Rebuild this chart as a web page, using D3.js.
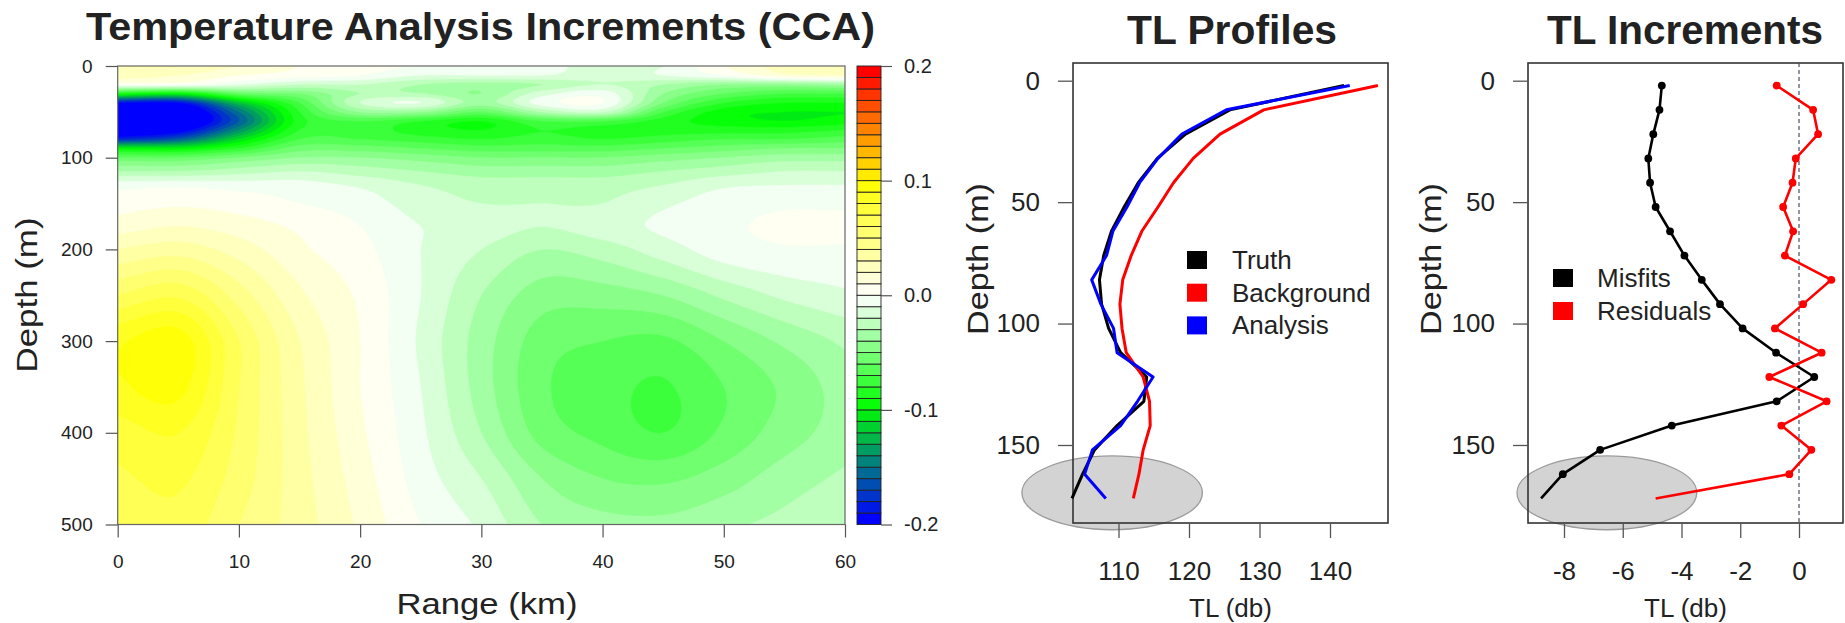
<!DOCTYPE html>
<html>
<head>
<meta charset="utf-8">
<script src="https://cdn.jsdelivr.net/npm/d3@7"></script>
<style>
body { margin: 0; background: #fff; }
text { font-family: "Liberation Sans", Arial, sans-serif; fill: #222; }
</style>
</head>
<body>
<svg id="chart" width="1845" height="623"></svg>
<script>
// ---- data: temperature increment field (rows = depth, cols = range)
var rangeKm = [0, 5, 10, 15, 20, 25, 30, 35, 40, 45, 50, 55, 60];
var depthM = [0, 10, 20, 30, 40, 50, 60, 70, 80, 90, 100, 115, 130, 150, 175, 200, 250, 300, 350, 400, 450, 500];
var incrRows = [
  [0.03, 0.03, 0.02, 0.01, 0.005, 0.0, 0.0, -0.005, -0.015, -0.01, 0.01, 0.025, 0.03],
  [0.025, 0.02, 0.01, 0.005, 0.0, -0.01, -0.01, -0.01, -0.015, -0.01, 0.0, 0.015, 0.02],
  [0.0, 0.0, -0.01, -0.02, -0.02, -0.03, -0.035, -0.03, -0.02, -0.03, -0.04, -0.04, -0.035],
  [-0.09, -0.1, -0.06, -0.05, -0.03, -0.03, -0.04, -0.015, -0.005, -0.04, -0.06, -0.07, -0.07],
  [-0.19, -0.19, -0.12, -0.07, -0.02, -0.01, -0.035, -0.005, 0.0, -0.05, -0.08, -0.09, -0.09],
  [-0.22, -0.22, -0.15, -0.08, -0.04, -0.04, -0.06, -0.03, -0.02, -0.07, -0.095, -0.1, -0.1],
  [-0.22, -0.22, -0.16, -0.085, -0.07, -0.08, -0.09, -0.07, -0.07, -0.085, -0.095, -0.1, -0.095],
  [-0.21, -0.2, -0.14, -0.08, -0.075, -0.085, -0.09, -0.08, -0.085, -0.085, -0.085, -0.085, -0.08],
  [-0.18, -0.16, -0.11, -0.07, -0.07, -0.075, -0.08, -0.075, -0.08, -0.075, -0.07, -0.07, -0.065],
  [-0.1, -0.1, -0.08, -0.055, -0.055, -0.06, -0.065, -0.065, -0.065, -0.06, -0.055, -0.05, -0.05],
  [-0.06, -0.06, -0.05, -0.04, -0.04, -0.045, -0.05, -0.05, -0.05, -0.045, -0.04, -0.035, -0.035],
  [-0.03, -0.03, -0.025, -0.02, -0.025, -0.03, -0.035, -0.035, -0.035, -0.03, -0.025, -0.02, -0.02],
  [-0.005, -0.003, -0.005, -0.006, -0.012, -0.02, -0.025, -0.025, -0.025, -0.02, -0.012, -0.01, -0.01],
  [0.005, 0.008, 0.005, 0.0, -0.005, -0.015, -0.02, -0.02, -0.02, -0.012, -0.005, -0.002, -0.002],
  [0.015, 0.02, 0.015, 0.008, 0.0, -0.01, -0.015, -0.02, -0.015, -0.008, -0.002, 0.002, 0.002],
  [0.03, 0.035, 0.025, 0.012, 0.003, -0.01, -0.02, -0.03, -0.025, -0.015, -0.005, -0.001, -0.001],
  [0.06, 0.068, 0.045, 0.022, 0.008, -0.01, -0.03, -0.045, -0.045, -0.04, -0.028, -0.018, -0.012],
  [0.088, 0.095, 0.06, 0.03, 0.01, -0.012, -0.035, -0.055, -0.06, -0.062, -0.05, -0.038, -0.028],
  [0.088, 0.093, 0.06, 0.032, 0.01, -0.01, -0.035, -0.058, -0.066, -0.071, -0.06, -0.048, -0.035],
  [0.075, 0.08, 0.058, 0.033, 0.012, -0.008, -0.03, -0.054, -0.063, -0.07, -0.058, -0.045, -0.035],
  [0.068, 0.072, 0.055, 0.034, 0.015, -0.005, -0.02, -0.04, -0.05, -0.052, -0.045, -0.035, -0.028],
  [0.062, 0.066, 0.05, 0.035, 0.018, 0.0, -0.012, -0.03, -0.036, -0.037, -0.032, -0.027, -0.022]
];
var rangeTicks = [0, 10, 20, 30, 40, 50, 60];
var depthTicks = [0, 100, 200, 300, 400, 500];
var cbarTicks = [0.2, 0.1, 0.0, -0.1, -0.2];

// ---- data: TL profiles and increments
var profDepth = [2, 12, 22, 32, 42, 52, 62, 72, 82, 92, 102, 112, 122, 132, 142, 152, 162, 172];
var truthTL = [142.0, 125.8, 119.5, 115.5, 112.8, 110.8, 109.0, 107.9, 107.3, 107.6, 108.6, 110.3, 114.0, 113.6, 109.8, 106.6, 104.9, 103.4];
var backgroundTL = [146.8, 130.6, 124.4, 120.6, 117.8, 115.6, 113.3, 111.8, 110.6, 110.2, 110.5, 111.1, 113.5, 114.4, 114.5, 113.5, 112.9, 112.1];
var analysisTL = [142.8, 125.3, 119.0, 115.6, 113.0, 111.2, 109.2, 108.3, 106.2, 107.5, 109.3, 109.8, 114.9, 112.7, 110.3, 106.3, 105.2, 108.2];
var misfits = [-4.67, -4.75, -4.96, -5.13, -5.07, -4.88, -4.39, -3.90, -3.31, -2.69, -1.92, -0.78, 0.52, -0.76, -4.33, -6.77, -8.04, -8.78];
var residuals = [-0.76, 0.48, 0.65, -0.11, -0.22, -0.54, -0.20, -0.48, 1.10, 0.14, -0.82, 0.77, -1.01, 0.94, -0.60, 0.42, -0.33, -4.88];
var profDepthTicks = [0, 50, 100, 150];
var tlTicks = [110, 120, 130, 140];
var incTicks = [-8, -6, -4, -2, 0];
// highlighted region: [x centre, depth centre, x radius, depth radius]
var highlightTL = [109.1, 169.7, 12.8, 15.2];
var highlightInc = [-6.54, 169.7, 3.06, 15.2];

var svg = d3.select("#chart");
var plain = function(d) { return String(d); };

// ---------- panel 1: contour field ----------
var x1 = d3.scaleLinear().domain([0, 60]).range([117.7, 845]);
var y1 = d3.scaleLinear().domain([0, 500]).range([66, 524.5]);
var cy = d3.scaleLinear().domain([-0.2, 0.2]).range([524.5, 66]);

var ramp = d3.scaleLinear().domain([0, 0.25, 0.5, 0.75, 1])
  .range(["#0000ff", "#00ff00", "#ffffff", "#ffff00", "#ff0000"])
  .interpolate(d3.interpolateRgb);
var nLev = 40;
var levels = d3.range(nLev).map(function(i) { return -0.2 + 0.01 * i; });
function levColor(i) { return ramp(i / (nLev - 1)); }

// cubic hermite through the read values, only to draw smooth contours
function cubic(xs, ys) {
  var n = xs.length, d = [], h = [], m = new Array(n), i;
  for (i = 0; i < n - 1; i++) { h.push(xs[i + 1] - xs[i]); d.push((ys[i + 1] - ys[i]) / h[i]); }
  m[0] = d[0]; m[n - 1] = d[n - 2];
  for (i = 1; i < n - 1; i++) m[i] = (d[i - 1] * h[i] + d[i] * h[i - 1]) / (h[i - 1] + h[i]);
  return function(x) {
    var k = Math.max(0, Math.min(n - 2, d3.bisectRight(xs, x) - 1));
    var t = (x - xs[k]) / h[k], t2 = t * t, t3 = t2 * t;
    return (2 * t3 - 3 * t2 + 1) * ys[k] + (t3 - 2 * t2 + t) * h[k] * m[k] +
      (-2 * t3 + 3 * t2) * ys[k + 1] + (t3 - t2) * h[k] * m[k + 1];
  };
}

var fx = 0.25, fy = 1, nx = 241, ny = 501;
var cols = rangeKm.map(function(_, c) {
  var f = cubic(depthM, incrRows.map(function(r) { return r[c]; }));
  return d3.range(ny).map(function(j) { return f(j * fy); });
});
var grid = new Float64Array(nx * ny);
for (var j = 0; j < ny; j++) {
  var fr = cubic(rangeKm, cols.map(function(col) { return col[j]; }));
  for (var i = 0; i < nx; i++) grid[j * nx + i] = fr(i * fx);
}
var contours = d3.contours().size([nx, ny]).thresholds(levels)(grid);
var proj = d3.geoTransform({
  point: function(px, py) { this.stream.point(x1((px - 0.5) * fx), y1((py - 0.5) * fy)); }
});
var gpath = d3.geoPath(proj);

svg.append("clipPath").attr("id", "clip1").append("rect")
  .attr("x", x1(0)).attr("y", y1(0)).attr("width", x1(60) - x1(0)).attr("height", y1(500) - y1(0));
var field = svg.append("g").attr("clip-path", "url(#clip1)");
field.append("rect").attr("x", x1(0)).attr("y", y1(0))
  .attr("width", x1(60) - x1(0)).attr("height", y1(500) - y1(0)).attr("fill", levColor(0));
field.selectAll("path").data(contours).enter().append("path")
  .attr("d", gpath)
  .attr("fill", function(d, i) { return levColor(i); })
  .attr("stroke", function(d, i) { return levColor(i); })
  .attr("stroke-width", 0.6);

svg.append("rect").attr("x", x1(0)).attr("y", y1(0))
  .attr("width", x1(60) - x1(0)).attr("height", y1(500) - y1(0))
  .attr("fill", "none").attr("stroke", "#666").attr("stroke-width", 1.2);

var ax1 = svg.append("g").attr("transform", "translate(" + x1(0) + ",0)")
  .call(d3.axisLeft(y1).tickValues(depthTicks).tickSize(12).tickPadding(13));
var bx1 = svg.append("g").attr("transform", "translate(0," + y1(500) + ")")
  .call(d3.axisBottom(x1).tickValues(rangeTicks).tickSize(13).tickPadding(17));
[ax1, bx1].forEach(function(a) {
  a.select(".domain").remove();
  a.selectAll("text").style("font-size", "19px").attr("fill", "#333");
  a.selectAll("line").attr("stroke", "#555").attr("stroke-width", 1.2);
});

// colour bar
var cbar = svg.append("g");
cbar.selectAll("rect").data(levels).enter().append("rect")
  .attr("x", 857).attr("width", 24)
  .attr("y", function(d) { return cy(d + 0.01); })
  .attr("height", function(d) { return cy(d) - cy(d + 0.01); })
  .attr("fill", function(d, i) { return levColor(i); })
  .attr("stroke", "#222").attr("stroke-width", 0.9);
var cax = svg.append("g").attr("transform", "translate(881,0)")
  .call(d3.axisRight(cy).tickValues(cbarTicks).tickSize(11).tickPadding(12)
    .tickFormat(function(d) { return d.toFixed(1); }));
cax.select(".domain").remove();
cax.selectAll("text").style("font-size", "20px").attr("fill", "#333");
cax.selectAll("line").attr("stroke", "#555").attr("stroke-width", 1.2);

svg.append("text").attr("x", 480.5).attr("y", 40).attr("text-anchor", "middle")
  .attr("textLength", 789).attr("lengthAdjust", "spacingAndGlyphs")
  .style("font-size", "38px").style("font-weight", "bold").attr("fill", "#000")
  .text("Temperature Analysis Increments (CCA)");
svg.append("text").attr("transform", "translate(26,295) rotate(-90)")
  .attr("text-anchor", "middle").attr("dominant-baseline", "central")
  .attr("textLength", 155).attr("lengthAdjust", "spacingAndGlyphs")
  .style("font-size", "30px").text("Depth (m)");
svg.append("text").attr("x", 487).attr("y", 603)
  .attr("text-anchor", "middle").attr("dominant-baseline", "central")
  .attr("textLength", 181).attr("lengthAdjust", "spacingAndGlyphs")
  .style("font-size", "30px").text("Range (km)");

// ---------- shared for profile panels ----------
var yP = d3.scaleLinear().domain([0, 150]).range([80.7, 445]);
var boxTop = 63, boxBot = 523;

function profilePanel(opt) {
  var g = svg.append("g");
  var x = opt.x;
  var h = opt.highlight;
  g.append("ellipse")
    .attr("cx", x(h[0])).attr("cy", yP(h[1]))
    .attr("rx", x(h[0] + h[2]) - x(h[0])).attr("ry", yP(h[1] + h[3]) - yP(h[1]))
    .attr("fill", "#d3d3d3").attr("stroke", "#9a9a9a").attr("stroke-width", 1.3);

  g.append("rect").attr("x", opt.left).attr("y", boxTop)
    .attr("width", opt.right - opt.left).attr("height", boxBot - boxTop)
    .attr("fill", "none").attr("stroke", "#333").attr("stroke-width", 1.6);

  var ay = g.append("g").attr("transform", "translate(" + opt.left + ",0)")
    .call(d3.axisLeft(yP).tickValues(profDepthTicks).tickSize(15).tickPadding(18).tickFormat(plain));
  var axx = g.append("g").attr("transform", "translate(0," + boxBot + ")")
    .call(d3.axisBottom(x).tickValues(opt.ticks).tickSize(15).tickPadding(24).tickFormat(plain));
  [ay, axx].forEach(function(a) {
    a.select(".domain").remove();
    a.selectAll("text").style("font-size", "26px").attr("fill", "#222");
    a.selectAll("line").attr("stroke", "#555").attr("stroke-width", 1.3);
  });

  var cx = (opt.left + opt.right) / 2;
  g.append("text").attr("x", opt.titleX).attr("y", 44).attr("text-anchor", "middle")
    .attr("textLength", opt.titleLen).attr("lengthAdjust", "spacingAndGlyphs")
    .style("font-size", "40px").style("font-weight", "bold").attr("fill", "#000")
    .text(opt.title);
  g.append("text").attr("transform", "translate(" + opt.ylabX + ",259) rotate(-90)")
    .attr("text-anchor", "middle").attr("dominant-baseline", "central")
    .attr("textLength", 152).attr("lengthAdjust", "spacingAndGlyphs")
    .style("font-size", "30px").text("Depth (m)");
  g.append("text").attr("x", cx).attr("y", 608)
    .attr("text-anchor", "middle").attr("dominant-baseline", "central")
    .style("font-size", "26px").text("TL (db)");
  return g;
}

// ---------- panel 2: TL profiles ----------
var x2 = d3.scaleLinear().domain([110, 140]).range([1118.5, 1330]);
var g2 = profilePanel({ x: x2, left: 1073, right: 1388, ticks: tlTicks, highlight: highlightTL,
  title: "TL Profiles", titleX: 1232, titleLen: 210, ylabX: 977 });
var line2 = d3.line().y(function(d) { return yP(d[0]); }).x(function(d) { return x2(d[1]); });
var profSeries = [
  { name: "Truth", color: "#000000", vals: truthTL },
  { name: "Background", color: "#ff0000", vals: backgroundTL },
  { name: "Analysis", color: "#0000ff", vals: analysisTL }
];
profSeries.forEach(function(s) {
  g2.append("path").datum(d3.zip(profDepth, s.vals))
    .attr("d", line2).attr("fill", "none").attr("stroke", s.color)
    .attr("stroke-width", 3).attr("stroke-linejoin", "round");
});
var leg2 = g2.selectAll(".leg").data(profSeries).enter().append("g")
  .attr("transform", function(d, i) { return "translate(1187," + (260 + i * 32.7) + ")"; });
leg2.append("rect").attr("x", 0).attr("y", -9).attr("width", 20).attr("height", 18)
  .attr("fill", function(d) { return d.color; });
leg2.append("text").attr("x", 45).attr("y", 0).attr("dominant-baseline", "central")
  .style("font-size", "26px").text(function(d) { return d.name; });

// ---------- panel 3: TL increments ----------
var x3 = d3.scaleLinear().domain([-8, 0]).range([1564, 1799]);
var g3 = profilePanel({ x: x3, left: 1528, right: 1843, ticks: incTicks, highlight: highlightInc,
  title: "TL Increments", titleX: 1685, titleLen: 276, ylabX: 1430 });
g3.append("line").attr("x1", x3(0)).attr("x2", x3(0)).attr("y1", boxTop).attr("y2", boxBot)
  .attr("stroke", "#4a4f66").attr("stroke-width", 1.2).attr("stroke-dasharray", "4,3");
var line3 = d3.line().y(function(d) { return yP(d[0]); }).x(function(d) { return x3(d[1]); });
var incSeries = [
  { name: "Misfits", color: "#000000", vals: misfits },
  { name: "Residuals", color: "#ff0000", vals: residuals }
];
incSeries.forEach(function(s) {
  var pts = d3.zip(profDepth, s.vals);
  g3.append("path").datum(pts)
    .attr("d", line3).attr("fill", "none").attr("stroke", s.color)
    .attr("stroke-width", 2.6).attr("stroke-linejoin", "round");
  g3.selectAll(null).data(pts.slice(0, -1)).enter().append("circle")
    .attr("cx", function(d) { return x3(d[1]); }).attr("cy", function(d) { return yP(d[0]); })
    .attr("r", 3.9).attr("fill", s.color);
});
var leg3 = g3.selectAll(".leg").data(incSeries).enter().append("g")
  .attr("transform", function(d, i) { return "translate(1553," + (278 + i * 33) + ")"; });
leg3.append("rect").attr("x", 0).attr("y", -9).attr("width", 20).attr("height", 18)
  .attr("fill", function(d) { return d.color; });
leg3.append("text").attr("x", 44).attr("y", 0).attr("dominant-baseline", "central")
  .style("font-size", "26px").text(function(d) { return d.name; });
</script>
</body>
</html>
